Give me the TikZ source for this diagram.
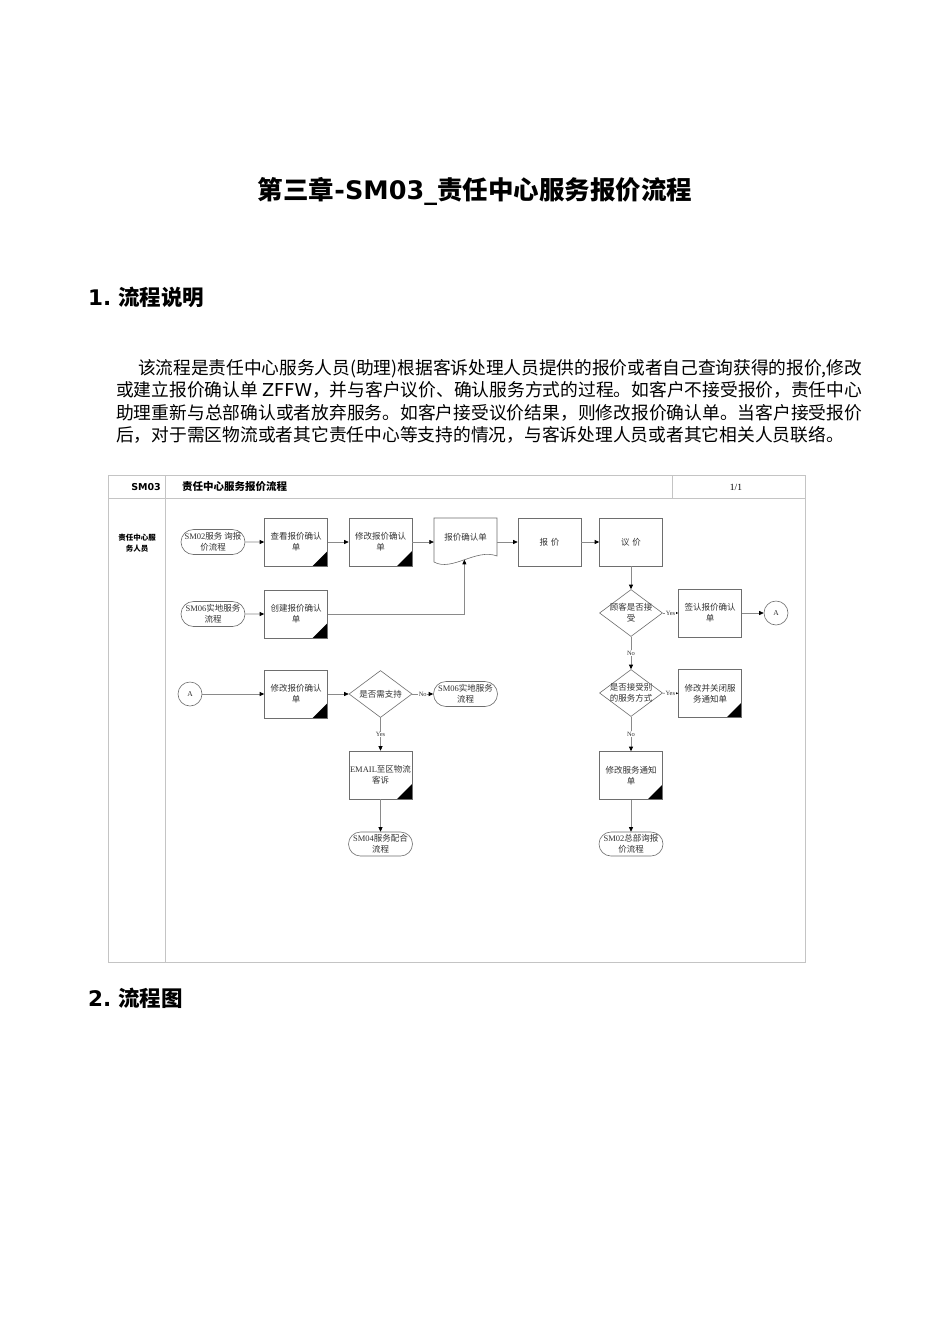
\documentclass[tikz,border=0pt]{standalone}
\usepackage{fontspec}
\setmainfont{Noto Sans CJK SC}
\newfontfamily\dejavu{DejaVu Sans}
\newfontfamily\lser{Liberation Serif}
\usetikzlibrary{shapes.geometric,shapes.misc,arrows.meta}
\XeTeXlinebreaklocale "zh"
\XeTeXlinebreakskip=0pt plus 2pt minus 0.2pt
\definecolor{framegray}{HTML}{C4C4C4}
\definecolor{linegray}{HTML}{8A8A8A}
\definecolor{boxgray}{HTML}{6E6E6E}
\definecolor{txtgray}{HTML}{333333}
\begin{document}
\begin{tikzpicture}[x=1pt,y=-1pt,
  dtext/.style={font=\fontsize{8.5}{11}\selectfont, text=txtgray, align=center, inner sep=0pt},
  proc/.style={dtext, draw=boxgray, line width=0.6pt, rectangle, minimum width=63pt, minimum height=48pt},
  procmark/.style={proc, path picture={\fill[black] (path picture bounding box.south east) -- ++(-15pt,0pt) -- ++(15pt,15pt) -- cycle;}},
  term/.style={draw=boxgray, line width=0.6pt, rounded rectangle, minimum width=64pt, minimum height=25pt, inner sep=0pt},
  dec/.style={draw=boxgray, line width=0.6pt, diamond, minimum width=63pt, minimum height=47pt, inner sep=0pt},
  conn/.style={draw=boxgray, line width=0.6pt, circle, minimum size=24pt, inner sep=0pt, font=\lser\fontsize{7.5}{8}\selectfont, text=txtgray},
  arr/.style={draw=linegray, line width=0.6pt, -{Triangle[length=4.5pt,width=4pt,color=black]}},
  yn/.style={font=\lser\fontsize{6.5}{6.5}\selectfont, text=txtgray, fill=white, inner sep=0.6pt},
  framel/.style={draw=framegray, line width=0.8pt},
]
\useasboundingbox (0,0) rectangle (950,1344);
\fill[white] (0,0) rectangle (950,1344);

% title and headings
\node[font=\bfseries\fontsize{25.5}{25.5}\selectfont, inner sep=0pt] (title) at (475,191) {第三章{\dejavu\bfseries -SM03\_}责任中心服务报价流程};
\node[anchor=west, font=\bfseries\fontsize{21.5}{21.5}\selectfont, inner sep=0pt] (h1) at (88,297) {{\dejavu\bfseries 1.}\hspace{7pt}流程说明};
\node[anchor=west, font=\bfseries\fontsize{21.5}{21.5}\selectfont, inner sep=0pt] (h2) at (88,998) {{\dejavu\bfseries 2.}\hspace{7pt}流程图};

\node[anchor=base west, inner sep=0pt, text width=746pt, align=justify, font=\fontsize{17.75}{22.5}\selectfont] (para) at (116,374)
{\hspace*{22pt}该流程是责任中心服务人员(助理)根据客诉处理人员提供的报价或者自己查询获得的报价,修改\linebreak
或建立报价确认单 {\dejavu ZFFW}，并与客户议价、确认服务方式的过程。如客户不接受报价，责任中心\linebreak
助理重新与总部确认或者放弃服务。如客户接受议价结果，则修改报价确认单。当客户接受报价\linebreak
后，对于需区物流或者其它责任中心等支持的情况，与客诉处理人员或者其它相关人员联络。};

% frame
\draw[framel] (108,475) rectangle (805,962);
\draw[framel] (108,498) -- (805,498);
\draw[framel] (165,475) -- (165,962);
\draw[framel] (672,475) -- (672,498);
\node[anchor=east, font=\dejavu\bfseries\fontsize{9.5}{9.5}\selectfont, inner sep=0pt] (hsm) at (161,487) {SM03};
\node[anchor=west, font=\bfseries\fontsize{10.5}{11}\selectfont, inner sep=0pt] (htitle) at (182,486.5) {责任中心服务报价流程};
\node[font=\lser\fontsize{9.5}{9.5}\selectfont, inner sep=0pt] (hpage) at (736,487) {1/1};
\node[font=\bfseries\fontsize{7.5}{11}\selectfont, align=center, inner sep=0pt] (lane) at (137,543) {责任中心服\\务人员};

% row 1
\node[term] (t1) at (213,542) {};
\node[dtext] (t1t) at (t1) {{\lser SM02}服务 询报\\价流程};
\node[procmark] (p1) at (296,542) {查看报价确认\\单};
\node[procmark] (p2) at (380.5,542) {修改报价确认\\单};
\node[minimum width=63pt, minimum height=48pt, inner sep=0pt] (doc) at (465.5,542) {};
\draw[draw=boxgray, line width=0.6pt] (434,518) -- (497,518) -- (497,556) .. controls (476,548) and (452,572) .. (434,562) -- cycle;
\path (497,556) .. controls (476,548) and (452,572) .. (434,562) coordinate[pos=0.5] (docb);
\node[dtext] (doct) at (465.5,537) {报价确认单};
\node[proc] (p3) at (549.5,542) {报\hspace{3pt}价};
\node[proc] (p4) at (631,542) {议\hspace{3pt}价};
\draw[arr] (t1) -- (p1);
\draw[arr] (p1) -- (p2);
\draw[arr] (p2.east) -- (doc.west);
\draw[arr] (doc.east) -- (p3.west);
\draw[arr] (p3) -- (p4);

% row 2
\node[term] (t2) at (213,614) {};
\node[dtext] (t2t) at (t2) {{\lser SM06}实地服务\\流程};
\node[procmark] (p5) at (296,614) {创建报价确认\\单};
\draw[arr] (t2) -- (p5);
\draw[arr] (p5.east) -| (docb);

\node[dec] (d1) at (631,613) {};
\node[dtext] (d1t) at (d1) {顾客是否接\\受};
\draw[arr] (p4) -- (d1);
\node[proc] (p6) at (710,613) {签认报价确认\\单};
\draw[arr] (d1) -- node[yn] (y1) {Yes} (p6);
\node[conn] (a1) at (776,613) {A};
\draw[arr] (p6) -- (a1);

\node[dec] (d2) at (631,693) {};
\node[dtext] (d2t) at (d2) {是否接受别\\的服务方式};
\draw[arr] (d1) -- node[yn] (n1) {No} (d2);
\node[procmark] (p7) at (710,693.5) {修改并关闭服\\务通知单};
\draw[arr] (d2) -- node[yn] (y2) {Yes} (p7);
\node[procmark] (p8) at (631,775.5) {修改服务通知\\单};
\draw[arr] (d2) -- node[yn] (n2) {No} (p8);
\node[term, minimum height=24pt] (t5) at (631,844) {};
\node[dtext] (t5t) at (t5) {{\lser SM02}总部询报\\价流程};
\draw[arr] (p8) -- (t5);

% row 4
\node[conn] (a2) at (190,694) {A};
\node[procmark] (p9) at (296,694) {修改报价确认\\单};
\draw[arr] (a2) -- (p9);
\node[dec] (d3) at (380.5,694) {};
\node[dtext] (d3t) at (d3) {是否需支持};
\draw[arr] (p9) -- (d3);
\node[term] (t3) at (465.5,694) {};
\node[dtext] (t3t) at (t3) {{\lser SM06}实地服务\\流程};
\draw[arr] (d3) -- node[yn] (n3) {No} (t3);
\node[procmark] (p10) at (380.5,775) {{\lser EMAIL}至区物流\\客诉};
\draw[arr] (d3) -- node[yn] (y3) {Yes} (p10);
\node[term, minimum height=24pt] (t4) at (380.5,844) {};
\node[dtext] (t4t) at (t4) {{\lser SM04}服务配合\\流程};
\draw[arr] (p10) -- (t4);
\end{tikzpicture}
\end{document}
